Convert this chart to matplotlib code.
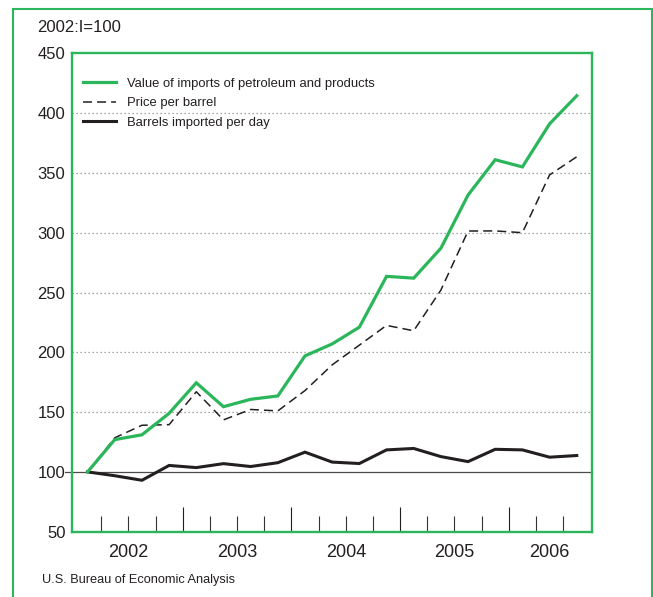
import matplotlib
matplotlib.use("Agg")
import matplotlib.pyplot as plt
from matplotlib import font_manager
from matplotlib.patches import Rectangle
from matplotlib.transforms import blended_transform_factory

# ---- data (2002:I = 100), quarterly 2002:I .. 2006:III ----
quarters = ["2002Q1", "2002Q2", "2002Q3", "2002Q4",
            "2003Q1", "2003Q2", "2003Q3", "2003Q4",
            "2004Q1", "2004Q2", "2004Q3", "2004Q4",
            "2005Q1", "2005Q2", "2005Q3", "2005Q4",
            "2006Q1", "2006Q2", "2006Q3"]
value_imports = [100, 127, 131, 149, 174.5, 154.5, 160.7, 163.5, 197, 207, 221, 263.5,
                 262, 287, 331.5, 361, 355, 391, 414.5]
price_per_barrel = [100, 128.5, 139, 139.5, 167, 143.5, 152.2, 151, 168, 189.5, 206, 222.5,
                    218, 252, 301.4, 301.5, 300, 348.3, 363.5]
barrels_per_day = [100, 96.8, 93, 105.4, 103.6, 106.9, 104.5, 107.7, 116.5, 108.2, 107, 118.4,
                   119.6, 112.8, 108.6, 118.9, 118.4, 112.3, 113.7]
years = ["2002", "2003", "2004", "2005", "2006"]
yticks = [50, 100, 150, 200, 250, 300, 350, 400, 450]
series_labels = ["Value of imports of petroleum and products",
                 "Price per barrel",
                 "Barrels imported per day"]

GREEN = "#2cb65b"
DARK = "#231f20"

avail = {f.name for f in font_manager.fontManager.ttflist}
HAS_NARROW = "Liberation Sans Narrow" in avail
NARROW = "Liberation Sans Narrow" if HAS_NARROW else "Liberation Sans"
plt.rcParams["font.family"] = ["Liberation Sans", "DejaVu Sans"]

legend_size = 10.2 if HAS_NARROW else 9.4
source_size = 10.0 if HAS_NARROW else 9.2

fig = plt.figure(figsize=(6.53, 5.97), dpi=100)
W, H = 653, 597
ax_left, ax_right, ax_top, ax_bot = 71.7, 591.7, 53.3, 531.7
ax = fig.add_axes([ax_left / W, 1 - ax_bot / H, (ax_right - ax_left) / W, (ax_bot - ax_top) / H])

x = [i + 0.5 for i in range(len(quarters))]

# grid lines
for v in yticks[2:-1]:
    ax.axhline(v, color="#8a8a8a", lw=0.9, ls=(0, (1, 2.2)), zorder=1)
ax.plot([-0.0135, 1], [100, 100], color="#4a4a4a", lw=0.9,
        transform=blended_transform_factory(ax.transAxes, ax.transData),
        clip_on=False, zorder=2)

ax.plot(x, value_imports, color=GREEN, lw=2.3, label=series_labels[0], zorder=4,
        solid_joinstyle="miter")
ln, = ax.plot(x, price_per_barrel, color=DARK, lw=1.1, label=series_labels[1], zorder=3)
ln.set_dashes((5.9, 3.3))
ax.plot(x, barrels_per_day, color=DARK, lw=2.2, label=series_labels[2], zorder=3,
        solid_joinstyle="miter")

ax.set_ylim(50, 450)
ax.set_xlim(-0.085, 19.05)
ax.set_yticks(yticks)
ax.set_yticklabels([str(v) for v in yticks], fontsize=12, color=DARK)
ax.tick_params(axis="y", length=0, pad=4.5)

# quarter ticks along bottom
major = [4, 8, 12, 16]
minor = [q for q in range(1, 19) if q not in major]
ax.set_xticks(major)
ax.set_xticks(minor, minor=True)
ax.set_xticklabels([])
ax.tick_params(axis="x", which="major", direction="in", length=18, width=0.8, color=DARK)
ax.tick_params(axis="x", which="minor", direction="in", length=11.8, width=0.8, color="#333333")
ax.tick_params(axis="x", top=False)

# year labels centred under their quarters
trans = blended_transform_factory(ax.transData, ax.transAxes)
year_centers = [2, 6, 10, 14, 17.5]
for xc, yr in zip(year_centers, years):
    ax.text(xc, -0.043, yr, ha="center", va="center", fontsize=13, color=DARK, transform=trans)

for s in ax.spines.values():
    s.set_color(GREEN)
    s.set_linewidth(1.7)

leg = ax.legend(loc="upper left", bbox_to_anchor=(0.0223, 0.949), frameon=False,
                borderaxespad=0, borderpad=0, handlelength=2.5, handletextpad=0.85,
                labelspacing=0.56, prop={"family": NARROW, "size": legend_size})
for t in leg.get_texts():
    t.set_color(DARK)

# figure texts
fig.text(37 / W, 1 - 32.3 / H, "2002:I=100", fontsize=12, color=DARK, va="baseline", ha="left")
fig.text(41.7 / W, 1 - 583.3 / H, "U.S. Bureau of Economic Analysis", fontsize=source_size,
         family=NARROW, color=DARK, va="baseline", ha="left")

# outer green frame
fig.patches.append(Rectangle((13.3 / W, -0.05), (652 - 13.3) / W, 1 - 9 / H + 0.05,
                             transform=fig.transFigure, fill=False, edgecolor=GREEN, lw=1.5))

fig.savefig("out.png", dpi=100)
